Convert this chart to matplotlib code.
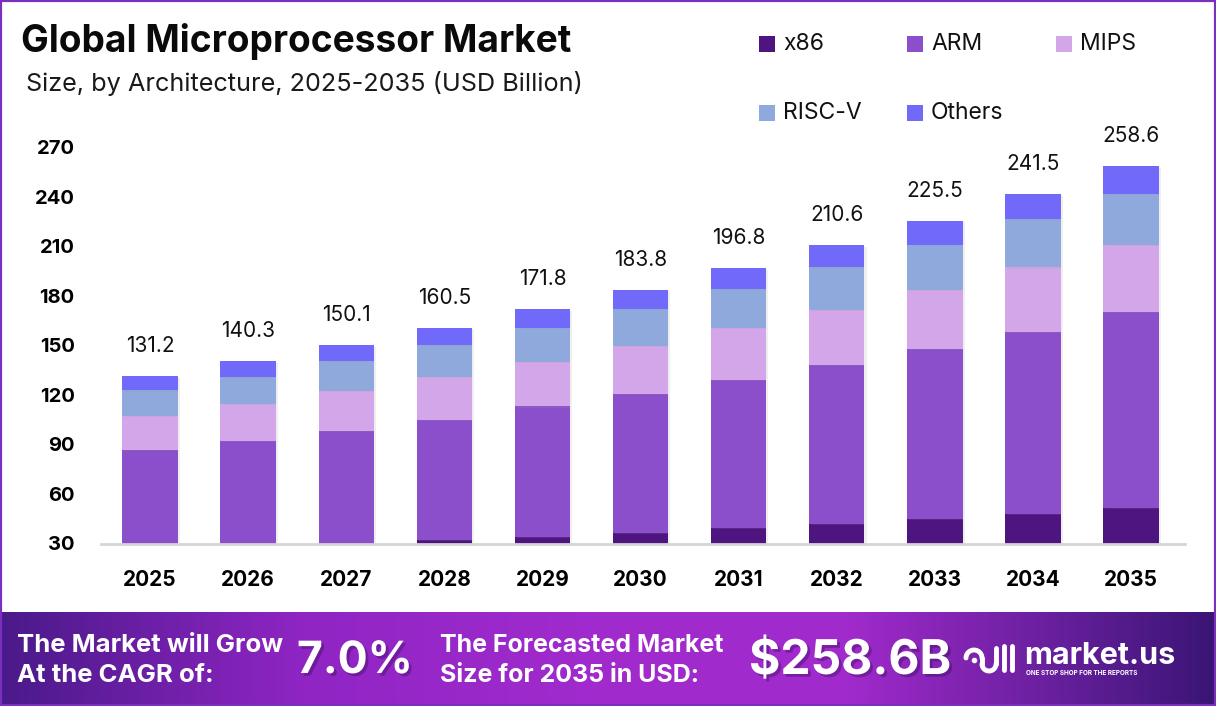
import matplotlib
matplotlib.use('Agg')
import matplotlib.pyplot as plt
import numpy as np
from matplotlib.patches import Rectangle
import matplotlib.patheffects as pe
from matplotlib.colors import LinearSegmentedColormap

plt.rcParams['font.family'] = ['Inter', 'DejaVu Sans']

# ---------------- data ----------------
years = ['2025', '2026', '2027', '2028', '2029', '2030', '2031', '2032', '2033', '2034', '2035']
x86 = [25.8, 27.6, 29.5, 32.3, 34.1, 36.6, 39.6, 42.0, 45.0, 48.1, 51.7]
arm = [60.8, 64.7, 68.9, 72.7, 79.0, 84.2, 89.7, 96.4, 103.1, 110.3, 118.5]
mips = [20.6, 22.4, 24.2, 26.1, 27.1, 29.1, 31.5, 33.3, 35.5, 38.9, 40.9]
riscv = [15.7, 16.2, 18.2, 19.4, 20.6, 22.4, 23.4, 25.6, 27.5, 29.0, 30.9]
others = [8.3, 9.4, 9.3, 10.0, 11.0, 11.5, 12.6, 13.3, 14.4, 15.2, 16.6]
totals = [131.2, 140.3, 150.1, 160.5, 171.8, 183.8, 196.8, 210.6, 225.5, 241.5, 258.6]
series_names = ['x86', 'ARM', 'MIPS', 'RISC-V', 'Others']
series = [x86, arm, mips, riscv, others]
yticks = [30, 60, 90, 120, 150, 180, 210, 240, 270]
title = 'Global Microprocessor Market'
subtitle = 'Size, by Architecture, 2025-2035 (USD Billion)'
cagr_text = '7.0%'
forecast_text = '$258.6B'

colors = ['#4E1580', '#8B4FCB', '#D3A6EA', '#8FA9DC', '#7169FA']

W, H = 1216, 706
fig = plt.figure(figsize=(W / 100, H / 100), dpi=100)
fig.patch.set_facecolor('white')


def fx(px):
    return px / W


def fy(py):
    return 1 - py / H


# ---------------- main axes ----------------
ax = fig.add_axes([fx(101), fy(543.5), fx(1185) - fx(101), fy(147.3) - fy(543.5)])
x = np.arange(len(years))
bottom = np.zeros(len(years))
for name, vals, col in zip(series_names, series, colors):
    ax.bar(x, vals, bottom=bottom, width=0.565, color=col, zorder=2, linewidth=0,
           path_effects=[pe.SimplePatchShadow(offset=(1.5, -1), shadow_rgbFace='#999999', alpha=0.15),
                         pe.Normal()])
    bottom += np.array(vals)

ax.set_ylim(30, 270)
ax.set_xlim(-0.5, 10.55)
ax.set_yticks(yticks)
ax.set_yticklabels([str(t) for t in yticks], fontsize=14.5, fontweight='bold')
ax.set_xticks(x)
ax.set_xticklabels(years, fontsize=15, fontweight='bold')
ax.tick_params(axis='y', length=0, pad=19)
ax.tick_params(axis='x', length=0, pad=19)
for s in ['top', 'right', 'left']:
    ax.spines[s].set_visible(False)
ax.spines['bottom'].set_color('#D5D5D5')
ax.spines['bottom'].set_linewidth(2)
ax.set_facecolor('none')

for xi, t in zip(x, totals):
    ax.annotate(f'{t:.1f}', (xi, t), xytext=(0, 21.6), textcoords='offset points',
                ha='center', va='center', fontsize=15, color='#111111', annotation_clip=False)

# ---------------- titles ----------------
fig.text(fx(21), fy(42), title, fontsize=26.7, fontweight='bold', va='center', ha='left', color='#0A0A0A')
fig.text(fx(26), fy(84), subtitle, fontsize=18.2, va='center', ha='left', color='#1A1A1A')

# ---------------- legend ----------------
col_x = [759, 907, 1056]
row_y = [44, 113]
for i, (name, col) in enumerate(zip(series_names, colors)):
    r, c = divmod(i, 3)
    sx, sy = col_x[c], row_y[r]
    fig.patches.append(Rectangle((fx(sx), fy(sy + 8)), 16 / W, 16 / H, transform=fig.transFigure,
                                 facecolor=col, edgecolor='none'))
    fig.text(fx(sx + 24), fy(sy), name, fontsize=16.5, va='center', ha='left', color='#111111')

# ---------------- banner ----------------
bax = fig.add_axes([0, 0, 1, fy(612)])
cmap = LinearSegmentedColormap.from_list('ban', [(0, '#4A1A8A'), (0.25, '#9025C4'), (0.5, '#A22BCE'),
                                                 (0.7, '#A02ACB'), (0.86, '#6A209F'), (1, '#3A1575')])
grad = np.linspace(0, 1, 512).reshape(1, -1)
bax.imshow(grad, cmap=cmap, aspect='auto', extent=(0, W, H, 612))
bax.set_xlim(0, W)
bax.set_ylim(H, 612)
bax.axis('off')

shadow = [pe.SimplePatchShadow(offset=(2, -2), shadow_rgbFace='#2A0A50', alpha=0.35), pe.Normal()]
bax.text(17, 646, 'The Market will Grow', fontsize=18.5, fontweight='bold', color='white', va='center', ha='left')
bax.text(17, 676, 'At the CAGR of:', fontsize=18.5, fontweight='bold', color='white', va='center', ha='left')
bax.text(297, 661, cagr_text, fontsize=32, fontweight='bold', color='white', va='center', ha='left',
         path_effects=shadow)
bax.text(440, 646, 'The Forecasted Market', fontsize=18, fontweight='bold', color='white', va='center', ha='left')
bax.text(440, 676, 'Size for 2035 in USD:', fontsize=18, fontweight='bold', color='white', va='center', ha='left')
bax.text(749, 661, forecast_text, fontsize=34.5, fontweight='bold', color='white', va='center', ha='left',
         path_effects=shadow)

# logo icon
th = np.linspace(np.pi, 0, 30)
bax.plot(974 + 8 * np.cos(th), 658 - 8 * np.sin(th), color='white', lw=3.5, solid_capstyle='round')
bax.plot([982, 982], [658, 664], color='white', lw=3.5, solid_capstyle='round')
th2 = np.linspace(np.pi, 2 * np.pi, 30)
bax.plot(989 + 7 * np.cos(th2), 664 - 7 * np.sin(th2), color='white', lw=3.5, solid_capstyle='round')
bax.plot([996, 996], [664, 648], color='white', lw=3.5, solid_capstyle='round')
bax.plot([1004, 1004], [646, 670], color='white', lw=3.5, solid_capstyle='round')
bax.plot([1012, 1012], [646, 670], color='white', lw=3.5, solid_capstyle='round')
bax.plot([974], [660], marker='o', color='white', ms=3)
bax.text(1024, 656, 'market.us', fontsize=22, fontweight='bold', color='white', va='center', ha='left')
bax.text(1026, 673, 'ONE STOP SHOP FOR THE REPORTS', fontsize=4.6, fontweight='bold', color='white',
         va='center', ha='left')

# border
fig.patches.append(Rectangle((0, 0), 1, 1, transform=fig.transFigure, fill=False,
                             edgecolor='#7B2FBE', lw=3, zorder=10))

fig.savefig('out.png', dpi=100)
